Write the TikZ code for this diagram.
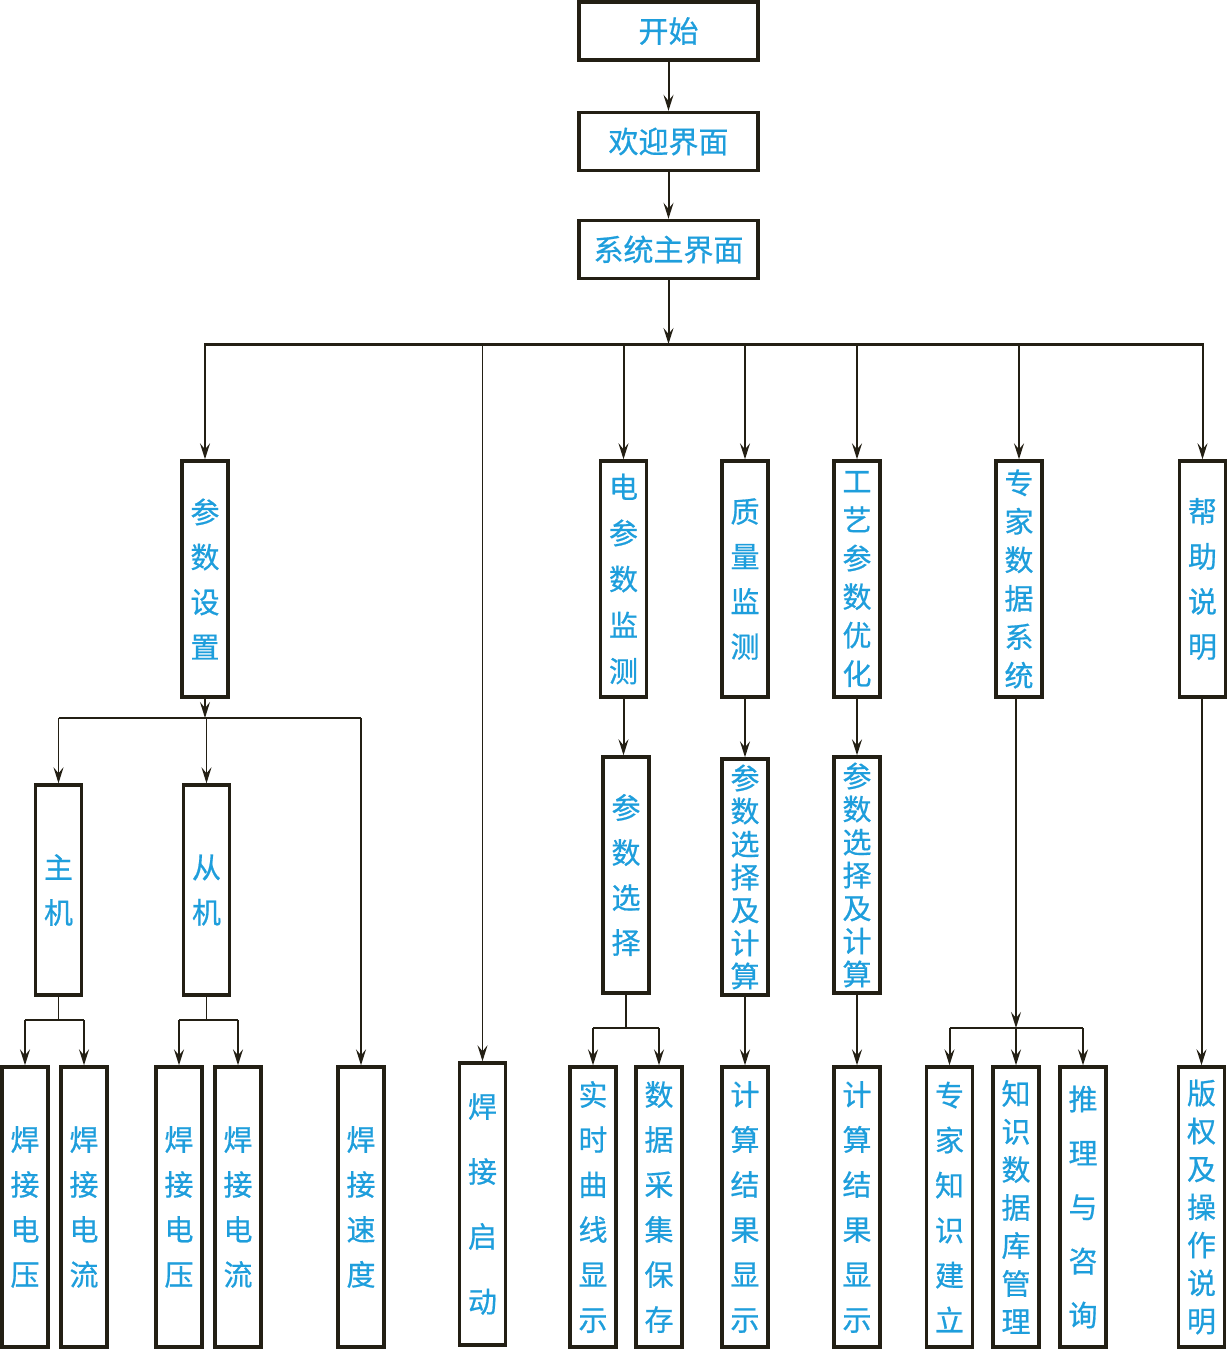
\documentclass[tikz,border=0pt]{standalone}
\usepackage{fontspec}
\newfontfamily\cjk[FakeBold=0.6]{Noto Sans CJK SC}
\usetikzlibrary{arrows.meta}
\definecolor{txtc}{RGB}{30,158,220}
\definecolor{boxc}{RGB}{35,31,20}
\tikzset{
  box/.style={draw=boxc, line width=3.4pt, inner sep=0pt, text=txtc, align=center, fill=white},
  hbox/.style={box, minimum width=179pt, minimum height=58pt, font=\cjk\fontsize{30}{36}\selectfont},
  vbox/.style={box, minimum width=46pt, minimum height=236pt, font=\cjk\fontsize{29}{45}\selectfont},
  lbox/.style={box, minimum width=46pt, minimum height=280pt, font=\cjk\fontsize{29}{45}\selectfont},
  conn/.style={draw=boxc, line width=2pt},
  thinconn/.style={draw=boxc, line width=1.3pt},
  busline/.style={draw=boxc, line width=3pt, line cap=rect},
  arr/.style={-{Stealth[length=16pt,width=10pt,inset=6pt]}},
}
\begin{document}
\begin{tikzpicture}[x=1pt,y=-1pt]
\useasboundingbox (0,0) rectangle (1228,1350);

% top
\node[hbox] (start) at (668.5,31) {开始};
\node[hbox] (welcome) at (668.5,141.5) {欢迎界面};
\node[hbox] (mainui) at (668.5,249.5) {系统主界面};

% row 2
\node[vbox] (csz) at (205,579) {参\\数\\设\\置};
\node[vbox, font=\cjk\fontsize{29}{46}\selectfont] (dcs) at (623.5,579) {电\\参\\数\\监\\测};
\node[vbox] (zljc) at (745,579) {质\\量\\监\\测};
\node[vbox, font=\cjk\fontsize{29}{38.5}\selectfont] (gy) at (857,579) {工\\艺\\参\\数\\优\\化};
\node[vbox, font=\cjk\fontsize{29}{38.5}\selectfont] (zj) at (1019,579) {专\\家\\数\\据\\系\\统};
\node[vbox] (help) at (1202.5,579) {帮\\助\\说\\明};

% row 3
\node[vbox, minimum height=210pt] (zhuji) at (58.5,890) {主\\机};
\node[vbox, minimum height=210pt] (congji) at (206.5,890) {从\\机};
\node[vbox] (csxz) at (626,875) {参\\数\\选\\择};
\node[vbox, font=\cjk\fontsize{29}{33}\selectfont] (csxzj1) at (745,877) {参\\数\\选\\择\\及\\计\\算};
\node[vbox, font=\cjk\fontsize{29}{33}\selectfont] (csxzj2) at (857,875) {参\\数\\选\\择\\及\\计\\算};

% row 4
\node[lbox] (hjdy1) at (25,1207) {焊\\接\\电\\压};
\node[lbox] (hjdl1) at (84,1207) {焊\\接\\电\\流};
\node[lbox] (hjdy2) at (179,1207) {焊\\接\\电\\压};
\node[lbox] (hjdl2) at (238,1207) {焊\\接\\电\\流};
\node[lbox] (hjsd) at (361,1207) {焊\\接\\速\\度};
\node[lbox, minimum height=282pt, font=\cjk\fontsize{29}{65}\selectfont] (hjqd) at (482.5,1204) {焊\\接\\启\\动};
\node[lbox] (ssqx) at (593,1207) {实\\时\\曲\\线\\显\\示};
\node[lbox] (sjcj) at (659,1207) {数\\据\\采\\集\\保\\存};
\node[lbox] (jsjg1) at (745,1207) {计\\算\\结\\果\\显\\示};
\node[lbox] (jsjg2) at (857,1207) {计\\算\\结\\果\\显\\示};
\node[lbox] (zjzs) at (949.5,1207) {专\\家\\知\\识\\建\\立};
\node[lbox, font=\cjk\fontsize{29}{38}\selectfont] (zssjk) at (1016,1207) {知\\识\\数\\据\\库\\管\\理};
\node[lbox, font=\cjk\fontsize{29}{54}\selectfont] (tlzx) at (1083,1207) {推\\理\\与\\咨\\询};
\node[lbox, font=\cjk\fontsize{29}{38}\selectfont] (bq) at (1201.5,1207) {版\\权\\及\\操\\作\\说\\明};

% top chain
\draw[conn, arr] (start) -- (welcome);
\draw[conn, arr] (welcome) -- (mainui);
\coordinate (bus) at (668.5,344);
\draw[conn, arr] (mainui) -- (bus);
\draw[busline] (csz.north |- bus) -- (help.north |- bus);
\foreach \n in {csz,dcs,zljc,gy,zj,help}
  \draw[conn, arr] (\n.north |- bus) -- (\n.north);
\draw[thinconn, arr] (hjqd.north |- bus) -- (hjqd.north);

% parameter setting branch
\coordinate (j1) at (205,718);
\draw[thinconn, arr] (csz.south) -- (j1);
\draw[thinconn] (zhuji.north |- j1) -- (hjsd.north |- j1);
\foreach \n in {zhuji,congji,hjsd}
  \draw[thinconn, arr] (\n.north |- j1) -- (\n.north);

\coordinate (j2) at (58.5,1020);
\draw[thinconn] (zhuji.south) -- (j2);
\draw[thinconn] (hjdy1.north |- j2) -- (hjdl1.north |- j2);
\foreach \n in {hjdy1,hjdl1}
  \draw[conn, arr] (\n.north |- j2) -- (\n.north);

\coordinate (j3) at (206.5,1020);
\draw[thinconn] (congji.south) -- (j3);
\draw[thinconn] (hjdy2.north |- j3) -- (hjdl2.north |- j3);
\foreach \n in {hjdy2,hjdl2}
  \draw[conn, arr] (\n.north |- j3) -- (\n.north);

% monitoring branches
\draw[conn, arr] (dcs.south) -- (dcs.south |- csxz.north);
\draw[conn, arr] (zljc) -- (csxzj1);
\draw[conn, arr] (gy) -- (csxzj2);
\draw[conn, arr] (csxzj1) -- (jsjg1);
\draw[conn, arr] (csxzj2) -- (jsjg2);

\coordinate (j4) at (626,1028);
\draw[conn] (csxz.south) -- (j4);
\draw[conn] (ssqx.north |- j4) -- (sjcj.north |- j4);
\foreach \n in {ssqx,sjcj}
  \draw[conn, arr] (\n.north |- j4) -- (\n.north);

% expert branch
\coordinate (j5) at (1016,1028);
\draw[conn, arr] (zj.south -| j5) -- (j5);
\draw[conn] (zjzs.north |- j5) -- (tlzx.north |- j5);
\foreach \n in {zjzs,zssjk,tlzx}
  \draw[conn, arr] (\n.north |- j5) -- (\n.north);

% help
\draw[conn, arr] (help.south -| bq) -- (bq.north);
\end{tikzpicture}
\end{document}
